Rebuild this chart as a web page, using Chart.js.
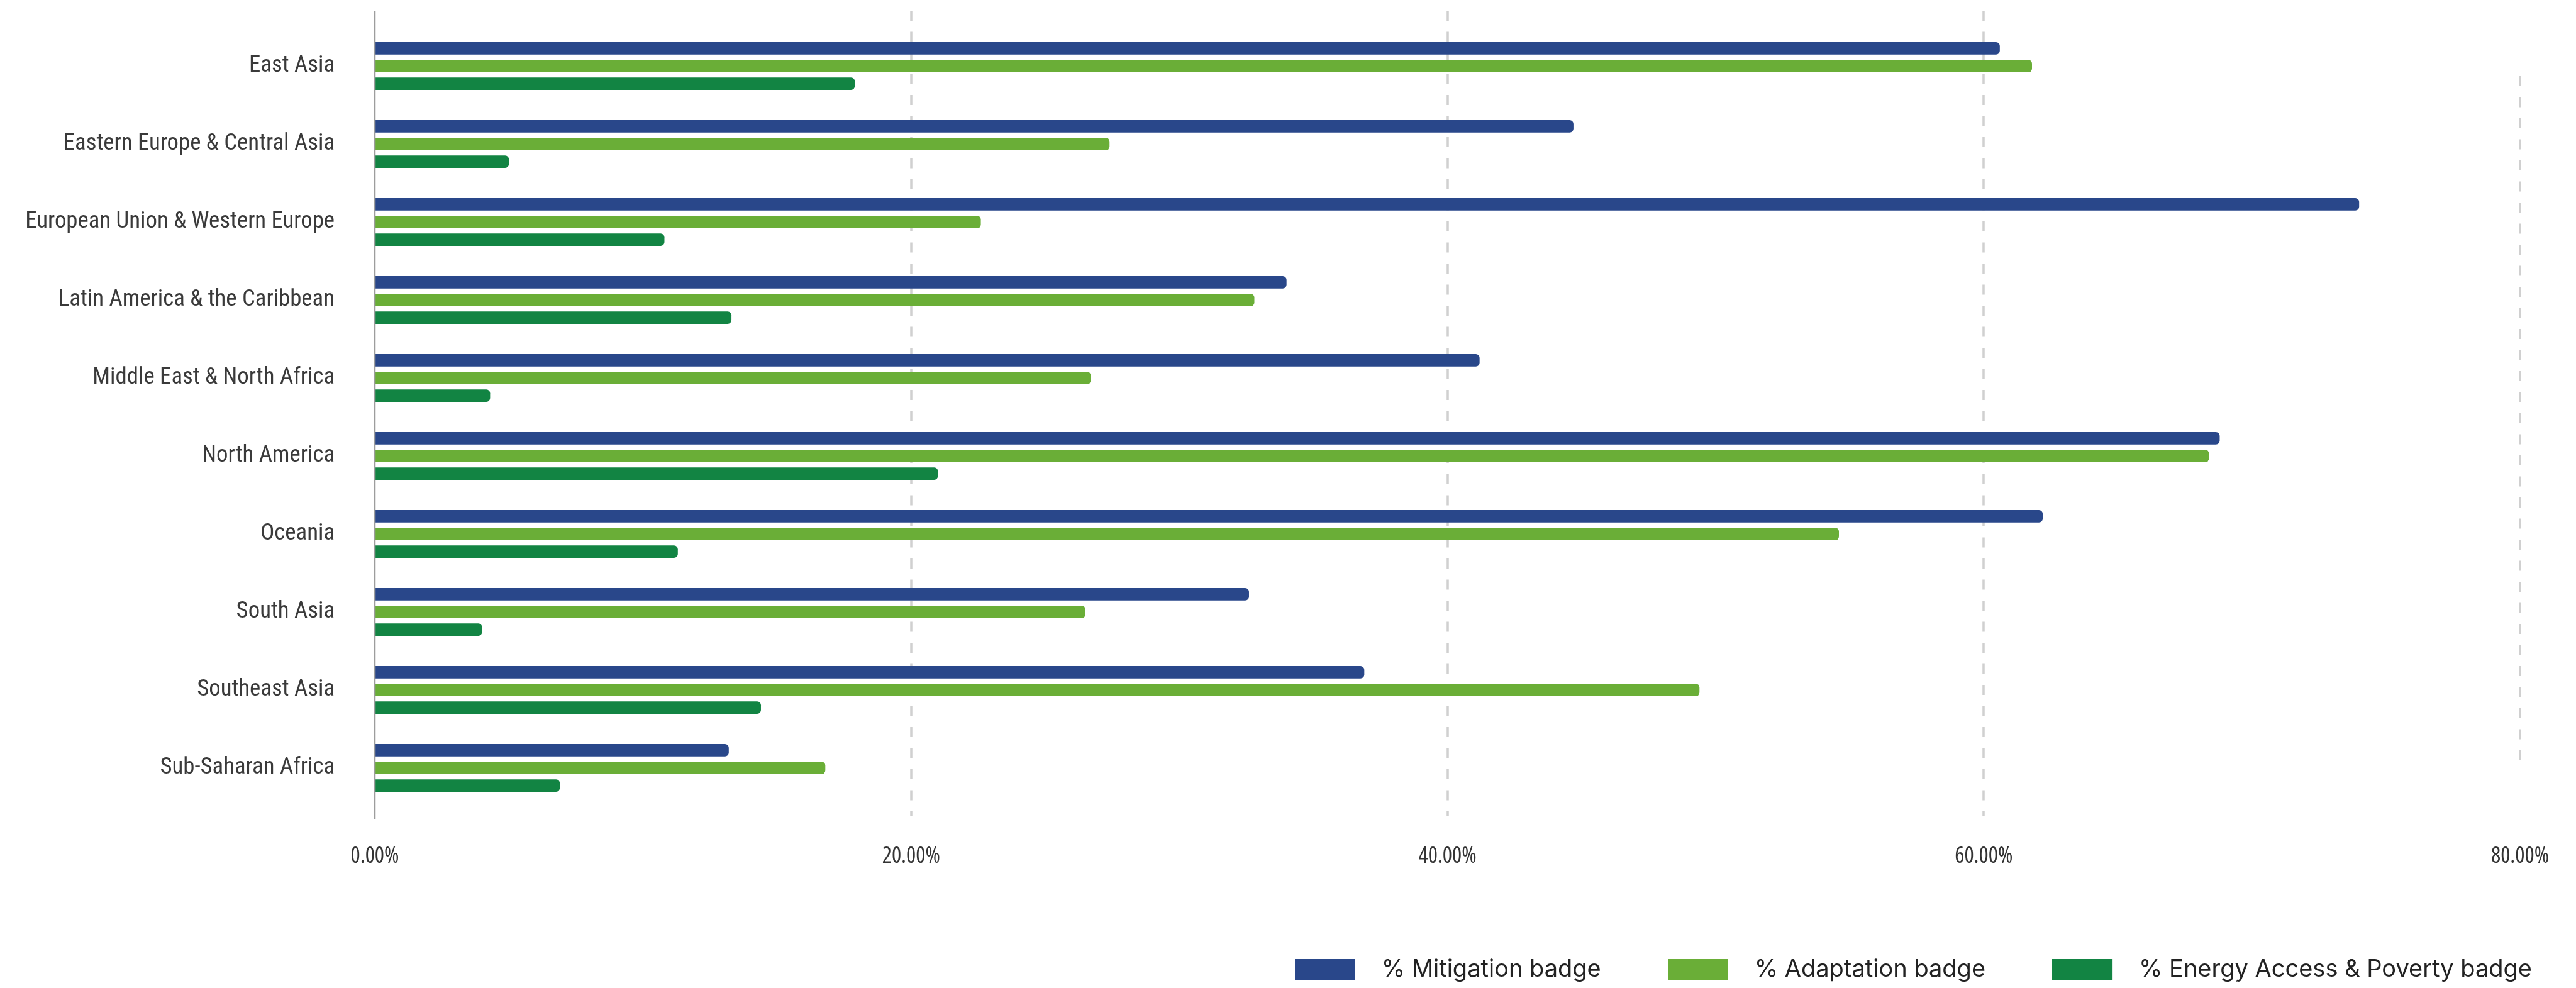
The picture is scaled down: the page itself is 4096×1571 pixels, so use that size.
<!DOCTYPE html>
<html>
<head>
<meta charset="utf-8">
<script src="https://cdn.jsdelivr.net/npm/chart.js@4.4.0/dist/chart.umd.min.js"></script>
<style>
  html, body { margin: 0; padding: 0; background: #ffffff; }
  #wrap { width: 4096px; height: 1571px; position: relative; }
</style>
</head>
<body>
<div id="wrap"><canvas id="c"></canvas></div>
<script>
// ---- data ----
const categories = [
  'East Asia',
  'Eastern Europe & Central Asia',
  'European Union & Western Europe',
  'Latin America & the Caribbean',
  'Middle East & North Africa',
  'North America',
  'Oceania',
  'South Asia',
  'Southeast Asia',
  'Sub-Saharan Africa'
];
const mitigation = [60.6, 44.7, 74.0, 34.0, 41.2, 68.8, 62.2, 32.6, 36.9, 13.2];
const adaptation = [61.8, 27.4, 22.6, 32.8, 26.7, 68.4, 54.6, 26.5, 49.4, 16.8];
const energy     = [17.9,  5.0, 10.8, 13.3,  4.3, 21.0, 11.3,  4.0, 14.4,  6.9];
const seriesNames = ['% Mitigation badge', '% Adaptation badge', '% Energy Access & Poverty badge'];
const xTickValues = [0, 20, 40, 60, 80];
const xTickLabels = ['0.00%', '20.00%', '40.00%', '60.00%', '80.00%'];

// ---- styles ----
const COLORS = ['#29478a', '#6aae37', '#128443'];

// choose the closest condensed face that is installed
function pickFont(text, targetWidth, targetRatio) {
  const cv = document.createElement('canvas');
  const cx = cv.getContext('2d');
  const families = ["'Liberation Sans Narrow'", "'Noto Sans'", "'Open Sans'", "Roboto", "Inter", "'DejaVu Sans'", "'Liberation Sans'", "Lato"];
  const stretches = ['normal', 'semi-condensed', 'condensed', 'extra-condensed'];
  let best = null;
  families.forEach(f => stretches.forEach(s => {
    cx.font = '10px serif';
    const str = (s === 'normal' ? '' : s + ' ') + '100px ' + f;
    cx.font = str;
    if (cx.font === '10px serif') return;
    const w = cx.measureText(text).width;
    const cap = cx.measureText('E').actualBoundingBoxAscent || 72;
    const r = w / cap;
    const d = Math.abs(r - targetRatio);
    if (!best || d < best.d - 0.05) best = { d, family: f, weight: s, size: 100 * targetWidth / w };
  }));
  return best;
}
const labelFont = pickFont('European Union & Western Europe', 492, 18.55);
const tickFont = pickFont('0.00%', 77, 3.11);

function legendSwatch(color) {
  const c = document.createElement('canvas');
  c.width = 119; c.height = 34;
  const g = c.getContext('2d');
  g.fillStyle = color;
  g.fillRect(0, 0, 96, 34);
  return c;
}
const swatches = COLORS.map(legendSwatch);

const refGrid = {
  id: 'refGrid',
  beforeDatasetsDraw(chart) {
    const { ctx, chartArea, scales: { x } } = chart;
    ctx.save();
    ctx.strokeStyle = '#d0d0d0';
    ctx.lineWidth = 3.5;
    ctx.setLineDash([16, 17.5]);
    xTickValues.forEach((v, i) => {
      if (v === 0) return;
      const px = Math.round(x.getPixelForValue(v));
      let y0 = chartArea.top - 26, y1 = chartArea.bottom + 15;
      if (i === xTickValues.length - 1) { y0 = chartArea.top + 78; y1 = chartArea.bottom - 58; }
      ctx.beginPath();
      ctx.moveTo(px, y0);
      ctx.lineTo(px, y1);
      ctx.stroke();
    });
    ctx.restore();
  },
  afterDatasetsDraw(chart) {
    const { ctx, chartArea, scales: { x } } = chart;
    const px = x.getPixelForValue(xTickValues[0]);
    ctx.save();
    ctx.strokeStyle = '#9d9d9d';
    ctx.lineWidth = 2.5;
    ctx.beginPath();
    ctx.moveTo(px, chartArea.top - 26);
    ctx.lineTo(px, chartArea.bottom + 19);
    ctx.stroke();
    ctx.restore();
  }
};

const data = {
  labels: categories,
  datasets: [mitigation, adaptation, energy].map((vals, i) => ({
    label: seriesNames[i],
    data: vals,
    backgroundColor: COLORS[i],
    borderWidth: 0,
    borderRadius: 6,
    borderSkipped: 'start',
    categoryPercentage: 0.68,
    barPercentage: 0.706
  }))
};

new Chart(document.getElementById('c'), {
  type: 'bar',
  data,
  plugins: [refGrid],
  options: {
    indexAxis: 'y',
    responsive: true,
    maintainAspectRatio: false,
    animation: false,
    devicePixelRatio: 1,
    layout: { padding: { top: 43, left: 0, right: -36, bottom: 0 } },
    plugins: {
      tooltip: { enabled: false },
      legend: {
        position: 'bottom',
        align: 'end',
        labels: {
          usePointStyle: true,
          pointStyleWidth: 119,
          boxHeight: 34,
          padding: 106,
          color: '#222222',
          font: { family: 'Inter', size: 38 },
          generateLabels(chart) {
            const items = Chart.defaults.plugins.legend.labels.generateLabels(chart);
            items.forEach(it => { it.pointStyle = swatches[it.datasetIndex]; });
            return items;
          }
        }
      }
    },
    scales: {
      x: {
        type: 'linear',
        position: 'bottom',
        min: 0,
        max: 80,
        grid: { display: false, drawTicks: false },
        border: { display: false },
        afterBuildTicks(s) { s.ticks = xTickValues.map(v => ({ value: v })); },
        ticks: {
          callback: (v, i) => xTickLabels[i],
          color: '#333333',
          padding: 57,
          maxRotation: 0,
          font: { family: tickFont.family, weight: tickFont.weight, size: tickFont.size }
        },
        afterFit(s) { s.height = 134; s.paddingLeft = 0; s.paddingRight = 0; }
      },
      y: {
        type: 'category',
        position: 'left',
        grid: { display: false, drawTicks: false },
        border: { display: false },
        ticks: {
          color: '#3a3a3a',
          padding: 64,
          autoSkip: false,
          font: { family: labelFont.family, weight: labelFont.weight, size: labelFont.size }
        },
        afterFit(s) { s.width = 596; s.paddingTop = 0; s.paddingBottom = 0; }
      },
      padR: {
        type: 'linear',
        position: 'right',
        display: true,
        grid: { display: false, drawTicks: false },
        border: { display: false },
        ticks: { display: false },
        afterFit(s) { s.width = 125; s.paddingTop = 0; s.paddingBottom = 0; }
      }
    }
  }
});
</script>
</body>
</html>
